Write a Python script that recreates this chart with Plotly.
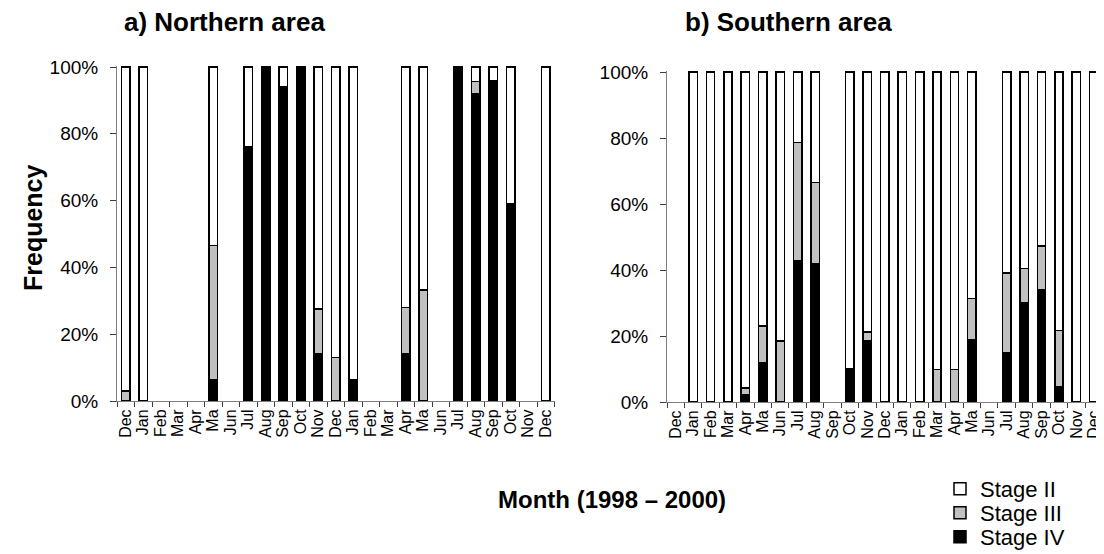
import plotly.graph_objects as go

months = ["Dec", "Jan", "Feb", "Mar", "Apr", "Ma", "Jun", "Jul", "Aug", "Sep", "Oct", "Nov",
          "Dec", "Jan", "Feb", "Mar", "Apr", "Ma", "Jun", "Jul", "Aug", "Sep", "Oct", "Nov", "Dec"]

# Northern area (None = no sample)
north_iv  = [0, 0, None, None, None, 6.5, None, 76, 100, 94, 100, 14, 0, 6.3, None, None, 14, 0, None, 100, 92, 96, 59, None, 0]
north_iii = [3, 0, None, None, None, 40, None, 0, 0, 0, 0, 13.5, 13, 0, None, None, 14, 33.3, None, 0, 3.6, 0, 0, None, 0]
north_ii  = [97, 100, None, None, None, 53.5, None, 24, 0, 6, 0, 72.5, 87, 93.7, None, None, 72, 66.7, None, 0, 4.4, 4, 41, None, 100]

# Southern area
south_iv  = [None, 0, 0, 0, 2.2, 11.8, 0, 42.9, 41.9, None, 10.1, 18.5, 0, 0, 0, 0, 0, 18.9, None, 15, 30, 34, 4.5, 0, 0]
south_iii = [None, 0, 0, 0, 2, 11.2, 18.5, 35.7, 24.6, None, 0, 2.7, 0, 0, 0, 9.8, 9.8, 12.4, None, 24.1, 10.4, 13.2, 17.2, 0, 0]
south_ii  = [None, 100, 100, 100, 95.8, 77, 81.5, 21.4, 33.5, None, 89.9, 78.8, 100, 100, 100, 90.2, 90.2, 68.7, None, 60.9, 59.6, 52.8, 78.3, 100, 100]

stage_names = ["Stage IV", "Stage III", "Stage II"]
stage_colors = ["black", "#c0c0c0", "white"]
y_ticks = [0, 20, 40, 60, 80, 100]
y_labels = [f"{v}%" for v in y_ticks]

FONT = "Arial, Liberation Sans, sans-serif"
OFF = 8                      # page body margin
FW, FH = 1104 - OFF, 554 - OFF


def px(X):
    return min(1.0, max(0.0, (X - OFF) / FW))


def py(Y):
    return min(1.0, max(0.0, 1 - (Y - OFF) / FH))


x_pos = list(range(len(months)))
YMAX = 100.4

legend_ids = {"Stage II": "legend", "Stage III": "legend2", "Stage IV": "legend3"}

fig = go.Figure()
for series, name, color in zip([north_iv, north_iii, north_ii], stage_names, stage_colors):
    fig.add_trace(go.Bar(x=x_pos, y=series, name=name,
                         marker=dict(color=color, line=dict(color="black", width=1.5)),
                         xaxis="x", yaxis="y", showlegend=True, legend=legend_ids[name]))
for series, name, color in zip([south_iv, south_iii, south_ii], stage_names, stage_colors):
    fig.add_trace(go.Bar(x=x_pos, y=series, name=name,
                         marker=dict(color=color, line=dict(color="black", width=1.5)),
                         xaxis="x2", yaxis="y2", showlegend=False))


def xaxis(domain, anchor):
    return dict(domain=domain, anchor=anchor, range=[-0.5, len(months) - 0.5], automargin=False,
                tickmode="array", tickvals=x_pos, ticktext=months, tickangle=-90,
                ticks="", showline=True, linecolor="#808080", linewidth=1,
                showgrid=False, zeroline=False, ticklabelstandoff=1,
                tickfont=dict(family=FONT, size=16, color="black"),
                minor=dict(ticks="outside", tick0=-0.5, dtick=1, ticklen=5, tickcolor="#404040",
                           tickwidth=1, showgrid=False))


def yaxis(y0, y100, anchor):
    ytop = y100 - (YMAX - 100) * (y0 - y100) / 100
    return dict(domain=[py(y0), py(ytop)], anchor=anchor, range=[0, YMAX], automargin=False,
                tickmode="array", tickvals=y_ticks, ticktext=y_labels,
                ticks="outside", ticklen=6, tickcolor="#404040", showline=True,
                linecolor="#808080", linewidth=1, showgrid=False, zeroline=False, ticklabelstandoff=8,
                tickfont=dict(family=FONT, size=19, color="black"))


def legend_at(Y):
    return dict(x=px(940), y=py(Y), xanchor="left", yanchor="top",
                font=dict(family=FONT, size=22, color="black"), bgcolor="rgba(0,0,0,0)",
                itemclick=False, itemdoubleclick=False)


fig.update_layout(
    width=FW, height=FH, autosize=False,
    margin=dict(l=0, r=0, t=0, b=0, autoexpand=False),
    paper_bgcolor="white", plot_bgcolor="white",
    barmode="stack", bargap=0.52,
    xaxis=xaxis([px(117), px(554.5)], "y"),
    yaxis=yaxis(401, 67, "x"),
    xaxis2=xaxis([px(667), px(1102.5)], "y2"),
    yaxis2=yaxis(402, 72, "x2"),
    showlegend=True,
    legend=legend_at(468),
    legend2=legend_at(492),
    legend3=legend_at(516),
    font=dict(family=FONT, color="black"),
    annotations=[
        dict(text="<b>a) Northern area</b>", x=px(224), y=py(22), xref="paper", yref="paper",
             showarrow=False, font=dict(family=FONT, size=26), xanchor="center", yanchor="middle"),
        dict(text="<b>b) Southern area</b>", x=px(788), y=py(22), xref="paper", yref="paper",
             showarrow=False, font=dict(family=FONT, size=26), xanchor="center", yanchor="middle"),
        dict(text="<b>Frequency</b>", x=px(33), y=py(228), xref="paper", yref="paper", textangle=-90,
             showarrow=False, font=dict(family=FONT, size=25), xanchor="center", yanchor="middle"),
        dict(text="<b>Month (1998 – 2000)</b>", x=px(612), y=py(499), xref="paper", yref="paper",
             showarrow=False, font=dict(family=FONT, size=24), xanchor="center", yanchor="middle"),
    ],
)

fig.write_html("out.html")
